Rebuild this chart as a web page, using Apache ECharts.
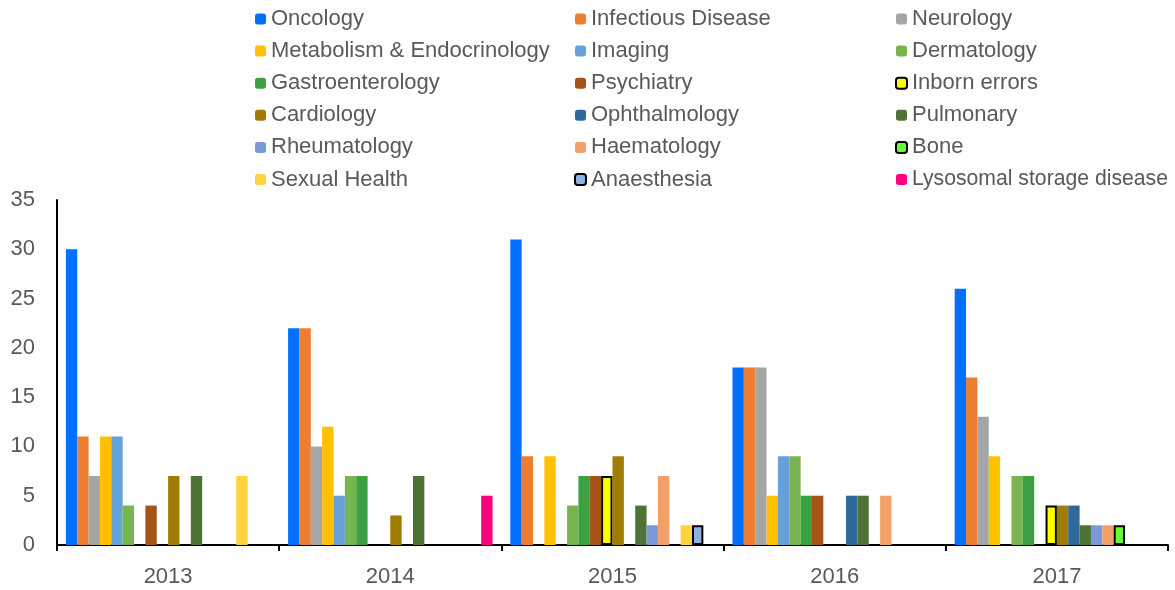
<!DOCTYPE html>
<html>
<head>
<meta charset="utf-8">
<script src="https://cdn.jsdelivr.net/npm/echarts@6/dist/echarts.min.js"></script>
<style>html,body{margin:0;padding:0;background:#fff}#c{width:1175px;height:590px}</style>
</head>
<body>
<div id="c"></div>
<script>
const years = ['2013', '2014', '2015', '2016', '2017'];
const yTicks = [0, 5, 10, 15, 20, 25, 30, 35];

const oncology      = [30, 22, 31, 18, 26];
const infectious    = [11, 22, 9, 18, 17];
const neurology     = [7, 10, 0, 18, 13];
const metabolism    = [11, 12, 9, 5, 9];
const imaging       = [11, 5, 0, 9, 0];
const dermatology   = [4, 7, 4, 9, 7];
const gastro        = [0, 7, 7, 5, 7];
const psychiatry    = [4, 0, 7, 5, 0];
const inborn        = [0, 0, 7, 0, 4];
const cardiology    = [7, 3, 9, 0, 4];
const ophthalmology = [0, 0, 0, 5, 4];
const pulmonary     = [7, 7, 4, 5, 2];
const rheumatology  = [0, 0, 2, 0, 2];
const haematology   = [0, 0, 7, 5, 2];
const bone          = [0, 0, 0, 0, 2];
const sexualHealth  = [7, 0, 2, 0, 0];
const anaesthesia   = [0, 0, 2, 0, 0];
const lysosomal     = [0, 5, 0, 0, 0];

const seriesDefs = [
  ['Oncology', oncology, '#0070FF', false],
  ['Infectious Disease', infectious, '#ED7D31', false],
  ['Neurology', neurology, '#A5A5A5', false],
  ['Metabolism & Endocrinology', metabolism, '#FFC000', false],
  ['Imaging', imaging, '#64A2D9', false],
  ['Dermatology', dermatology, '#78B450', false],
  ['Gastroenterology', gastro, '#3DA041', false],
  ['Psychiatry', psychiatry, '#A65316', false],
  ['Inborn errors', inborn, '#FFFF00', true],
  ['Cardiology', cardiology, '#A07C00', false],
  ['Ophthalmology', ophthalmology, '#2F699B', false],
  ['Pulmonary', pulmonary, '#4F7336', false],
  ['Rheumatology', rheumatology, '#7A9BD8', false],
  ['Haematology', haematology, '#F2A068', false],
  ['Bone', bone, '#66FF33', true],
  ['Sexual Health', sexualHealth, '#FFD23F', false],
  ['Anaesthesia', anaesthesia, '#8CB4E0', true],
  ['Lysosomal storage disease', lysosomal, '#FF0080', false]
];

const FONT = 'Liberation Sans';
const series = seriesDefs.map(([name, data, color, bordered]) => ({
  name: name,
  type: 'bar',
  data: data.map(v => v === 0 ? null : v),
  barGap: '0%',
  barCategoryGap: '8%',
  itemStyle: bordered ? {color: color, borderColor: '#000', borderWidth: 2} : {color: color},
  emphasis: {disabled: true}
}));

const cols = [[], [], []];
seriesDefs.forEach((d, i) => cols[i % 3].push(d[0]));
const colX = [255, 574, 895];
const legends = cols.map((names, i) => ({
  data: names,
  orient: 'vertical',
  left: colX[i],
  top: 8,
  itemWidth: 11,
  itemHeight: 11,
  itemGap: 10.1,
  padding: 0,
  selectedMode: false,
  formatter: function (name) {
    return name.length > 22 && i === 2 ? '{n|' + name + '}' : '{m|' + name + '}';
  },
  textStyle: {
    fontFamily: FONT, fontSize: 22, color: '#595959', lineHeight: 22,
    rich: {
      m: {fontFamily: FONT, fontSize: 22, color: '#595959', lineHeight: 22},
      n: {fontFamily: FONT, fontSize: 21.2, color: '#595959', lineHeight: 22}
    }
  }
}));

const chart = echarts.init(document.getElementById('c'), null, {renderer: 'canvas'});
chart.setOption({
  animation: false,
  backgroundColor: '#fff',
  legend: legends,
  grid: {left: 57, right: 7, top: 200, bottom: 45, containLabel: false},
  xAxis: {
    type: 'category',
    data: years,
    axisLine: {show: true, lineStyle: {color: '#000', width: 2}},
    axisTick: {show: true, length: 6, lineStyle: {color: '#000', width: 2}},
    axisLabel: {fontFamily: FONT, fontSize: 22, color: '#595959', margin: 21}
  },
  yAxis: {
    type: 'value',
    min: yTicks[0],
    max: yTicks[yTicks.length - 1],
    interval: 5,
    axisLine: {show: true, lineStyle: {color: '#000', width: 2}},
    axisTick: {show: false},
    splitLine: {show: false},
    axisLabel: {fontFamily: FONT, fontSize: 22, color: '#595959', margin: 22}
  },
  series: series
});
</script>
</body>
</html>
